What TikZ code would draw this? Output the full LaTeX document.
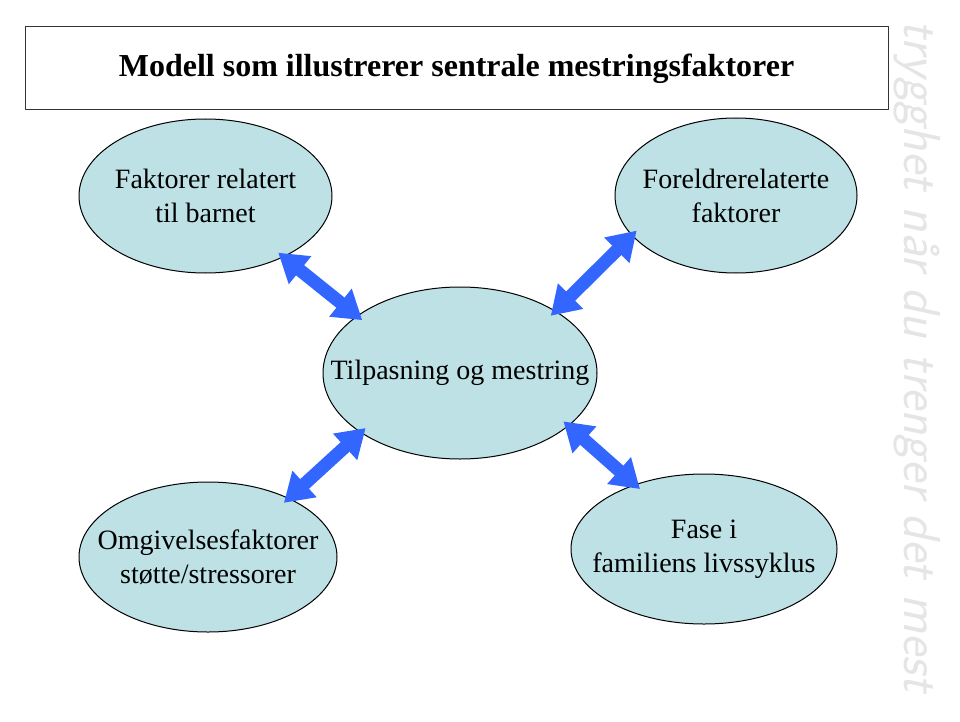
\documentclass[tikz,border=0pt]{standalone}
\usepackage{fontspec}
\setmainfont{Liberation Serif}
\usetikzlibrary{arrows.meta,shapes.geometric}
\definecolor{ellfill}{RGB}{189,225,229}
\definecolor{arrblue}{RGB}{51,102,255}
\begin{document}
\begin{tikzpicture}[x=1pt,y=-1pt,line join=round,
	faktor/.style={ellipse,draw=black,line width=1pt,fill=ellfill,inner xsep=-150pt,inner ysep=-40pt,align=center,font=\fontsize{28}{34}\selectfont},
	dobbel/.style={draw=arrblue,line width=13pt,shorten <=-7pt,shorten >=-7pt,{Triangle[width=34pt,length=28pt,fill=arrblue]}-{Triangle[width=34pt,length=28pt,fill=arrblue]}}]
		\useasboundingbox (0,0) rectangle (960,722);
		\node[draw=black!80,line width=1pt,minimum width=863pt,minimum height=83pt,inner sep=0pt,font=\bfseries\fontsize{32}{38}\selectfont] (tittel) at (456.5,68.5) {Modell som illustrerer sentrale mestringsfaktorer};
		\node[rotate=-90,text=black!10,font=\sffamily\itshape\fontsize{52}{58}\selectfont] (motto) at (917,356) {trygghet når du trenger det mest};
		\node[faktor,minimum width=253pt,minimum height=154pt] (barn) at (205.5,196) {Faktorer relatert\\til barnet};
		\node[faktor,minimum width=242pt,minimum height=155pt] (foreldre) at (736,195.5) {Foreldrerelaterte\\faktorer};
		\node[faktor,minimum width=274pt,minimum height=172pt] (mestring) at (460,373) {Tilpasning og mestring};
		\node[faktor,minimum width=258pt,minimum height=150pt] (omgivelser) at (208,557) {Omgivelsesfaktorer\\støtte/stressorer};
		\node[faktor,minimum width=266pt,minimum height=150pt] (livsfase) at (704,549) {Fase i\\familiens livssyklus};
		\draw[dobbel] (barn.-38.9) -- (mestring.151.7);
		\draw[dobbel] (foreldre.201.3) -- (mestring.33.8);
		\draw[dobbel] (omgivelser.36.2) -- (mestring.211.3);
		\draw[dobbel] (mestring.-26.1) -- (livsfase.137.2);
	\end{tikzpicture}
\end{document}
